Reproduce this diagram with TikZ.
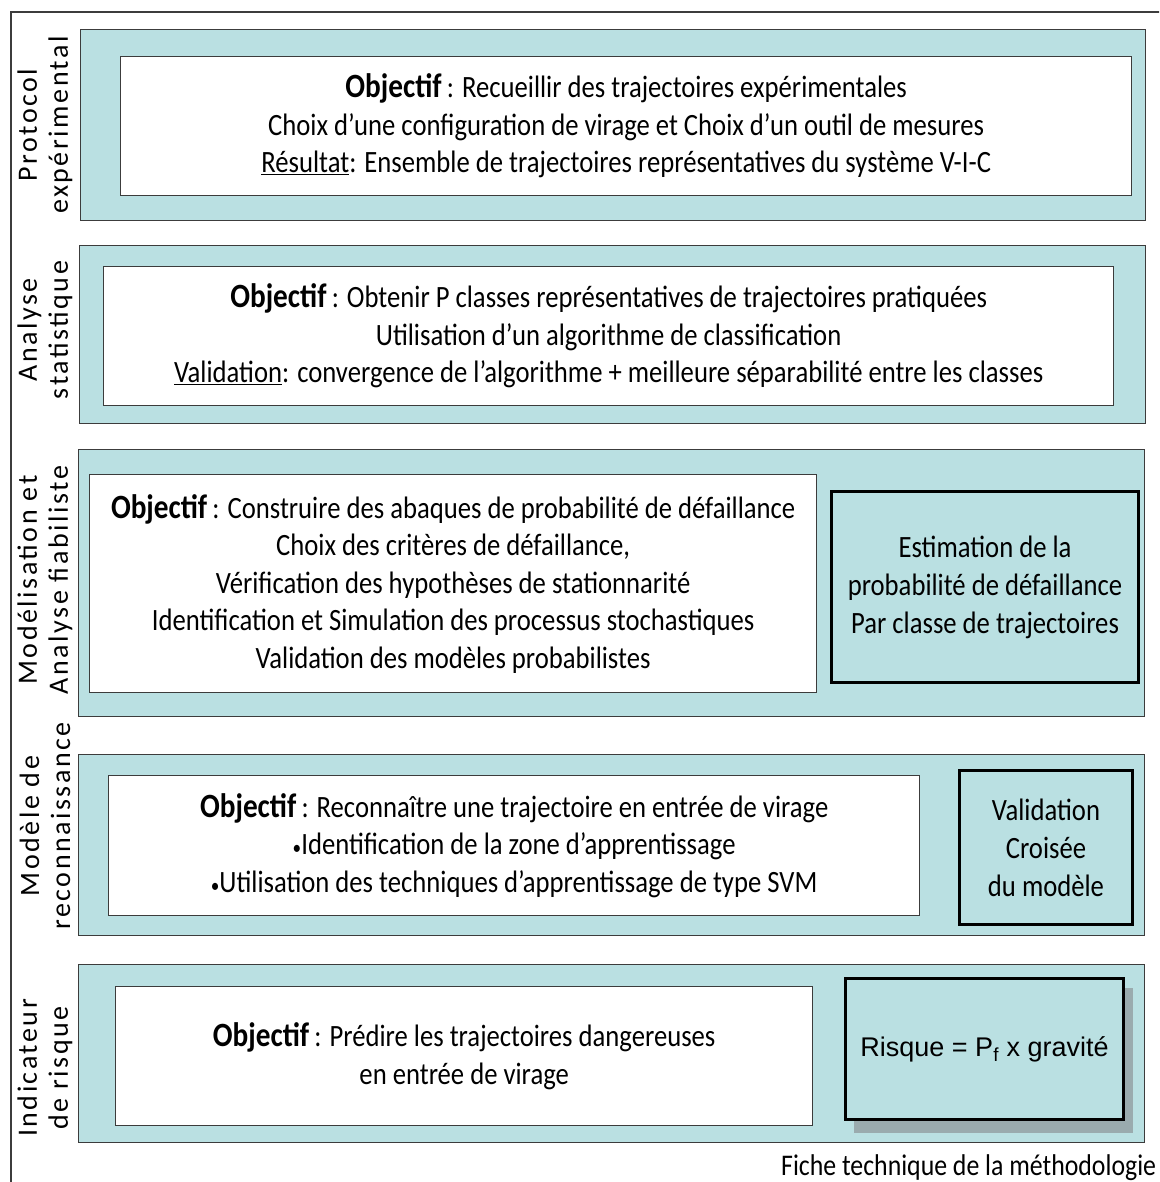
\documentclass[tikz,border=0pt]{standalone}
\usepackage{fontspec}
\setmainfont{Carlito}[FakeStretch=0.86]
\newfontfamily\labfont{Carlito}[LetterSpace=9]
\newfontfamily\arialfont{Liberation Sans}
\definecolor{bandfill}{RGB}{186,224,226}
\definecolor{shadowgray}{RGB}{154,171,174}
\definecolor{edgegray}{RGB}{60,60,60}
\tikzset{
  band/.style={draw=edgegray, line width=1.2pt, fill=bandfill, anchor=north west, inner sep=0pt},
  innerbox/.style={draw=edgegray, line width=1.3pt, fill=white, anchor=north west, inner sep=0pt, align=center,
    font=\fontsize{31}{37.5}\selectfont},
  sidebox/.style={draw=black, line width=3pt, fill=bandfill, anchor=north west, inner sep=0pt, align=center,
    font=\fontsize{31}{38}\selectfont},
  sidelabel/.style={rotate=90, align=center, font=\labfont\fontsize{28}{31}\selectfont}
}
\newcommand{\objw}{{\fontsize{34}{37.5}\selectfont\bfseries Objectif}}
\newcommand{\dotb}{{\fontsize{20}{20}\selectfont •}}
\begin{document}
\begin{tikzpicture}[x=1pt,y=-1pt]
\useasboundingbox (0,0) rectangle (1159,1182);
\clip (0,0) rectangle (1159,1182);
% outer frame
\coordinate (fbl) at (11,1190);
\coordinate (ftl) at (11,12);
\coordinate (ftr) at (1170,12);
\draw[edgegray, line width=1.2pt] (fbl) -- (ftl) -- (ftr);

% Row 1
\node[band, minimum width=1065pt, minimum height=191pt] (b1) at (80,29) {};
\node[innerbox, minimum width=1011pt, minimum height=139pt] (i1) at (120,56)
  {\objw{}\,: Recueillir des trajectoires expérimentales\\
   Choix d’une configuration de virage et Choix d’un outil de mesures\\
   \underline{Résultat}: Ensemble de trajectoires représentatives du système V-I-C};
\node[sidelabel] (l1) at (45,125) {Protocol\\expérimental};

% Row 2
\node[band, minimum width=1066pt, minimum height=178pt] (b2) at (79,245) {};
\node[innerbox, minimum width=1010pt, minimum height=139pt] (i2) at (103,266)
  {\objw{}\,: Obtenir P classes représentatives de trajectoires pratiquées\\
   Utilisation d’un algorithme de classification\\
   \underline{Validation}: convergence de l’algorithme + meilleure séparabilité entre les classes};
\node[sidelabel] (l2) at (45,330) {Analyse\\statistique};

% Row 3
\node[band, minimum width=1066pt, minimum height=267pt] (b3) at (78,449) {};
\node[innerbox, minimum width=727pt, minimum height=218pt] (i3) at (89,474)
  {\objw{}\,: Construire des abaques de probabilité de défaillance\\
   Choix des critères de défaillance,\\
   Vérification des hypothèses de stationnarité\\
   Identification et Simulation des processus stochastiques\\
   Validation des modèles probabilistes};
\node[sidebox, minimum width=307pt, minimum height=191pt] (s3) at (830,490)
  {Estimation de la\\probabilité de défaillance\\Par classe de trajectoires};
\node[sidelabel] (l3) at (45,580) {Modélisation et\\Analyse fiabiliste};

% Row 4
\node[band, minimum width=1066pt, minimum height=181pt] (b4) at (78,754) {};
\node[innerbox, minimum width=811pt, minimum height=140pt] (i4) at (108,775)
  {\objw{}\,: Reconnaître une trajectoire en entrée de virage\\
   \dotb Identification de la zone d’apprentissage\\
   \dotb Utilisation des techniques d’apprentissage de type SVM};
\node[sidebox, minimum width=173pt, minimum height=154pt] (s4) at (958,769)
  {Validation\\Croisée\\du modèle};
\node[sidelabel] (l4) at (45,826) {Modèle de\\reconnaissance};

% Row 5
\node[band, minimum width=1066pt, minimum height=178pt] (b5) at (78,964) {};
\node[innerbox, minimum width=697pt, minimum height=139pt] (i5) at (115,986)
  {\objw{}\,: Prédire les trajectoires dangereuses\\
   en entrée de virage};
\node[fill=shadowgray, anchor=north west, inner sep=0pt, minimum width=279pt, minimum height=145pt] (sh5) at (854,988) {};
\node[sidebox, minimum width=278pt, minimum height=141pt, font=\arialfont\fontsize{27}{34}\selectfont] (s5) at (844,977)
  {Risque = P\textsubscript{f} x gravité};
\node[sidelabel] (l5) at (45,1068) {Indicateur\\de risque};

% footer
\node[anchor=west, inner sep=0pt, font=\fontsize{30}{34}\selectfont] (foot) at (781,1168) {Fiche technique de la méthodologie};
\end{tikzpicture}
\end{document}
